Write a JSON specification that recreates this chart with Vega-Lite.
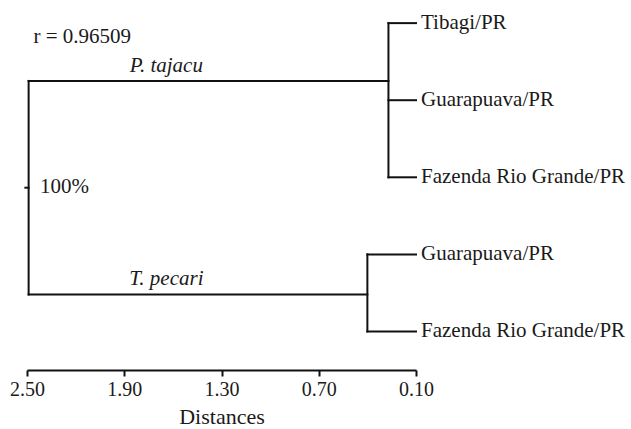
{
  "$schema": "https://vega.github.io/schema/vega-lite/v6.json",
  "autosize": "none",
  "padding": {"left": 27, "top": 0, "right": 215, "bottom": 59},
  "width": 389,
  "height": 370,
  "background": "white",
  "config": {"view": {"stroke": null}, "font": "Liberation Serif"},
  "datasets": {
    "segments": [
      {"part": "root stub", "x": 2.51, "x2": 2.49, "y": 2.135, "y2": 2.135},
      {"part": "root", "x": 2.49, "x2": 2.49, "y": 0.75, "y2": 3.52},
      {"part": "P. tajacu branch", "x": 2.49, "x2": 0.27, "y": 0.75, "y2": 0.75},
      {"part": "P. tajacu node", "x": 0.27, "x2": 0.27, "y": 0, "y2": 2},
      {"part": "Tibagi", "x": 0.27, "x2": 0.1, "y": 0, "y2": 0},
      {"part": "Guarapuava 1", "x": 0.27, "x2": 0.1, "y": 1, "y2": 1},
      {"part": "Fazenda 1", "x": 0.27, "x2": 0.1, "y": 2, "y2": 2},
      {"part": "T. pecari branch", "x": 2.49, "x2": 0.4, "y": 3.52, "y2": 3.52},
      {"part": "T. pecari node", "x": 0.4, "x2": 0.4, "y": 3, "y2": 4},
      {"part": "Guarapuava 2", "x": 0.4, "x2": 0.1, "y": 3, "y2": 3},
      {"part": "Fazenda 2", "x": 0.4, "x2": 0.1, "y": 4, "y2": 4}
    ],
    "leaves": [
      {"label": "Tibagi/PR", "x": 0.1, "y": 0},
      {"label": "Guarapuava/PR", "x": 0.1, "y": 1},
      {"label": "Fazenda Rio Grande/PR", "x": 0.1, "y": 2},
      {"label": "Guarapuava/PR", "x": 0.1, "y": 3},
      {"label": "Fazenda Rio Grande/PR", "x": 0.1, "y": 4}
    ],
    "clades": [
      {"label": "P. tajacu", "x": 1.64, "y": 0.75},
      {"label": "T. pecari", "x": 1.64, "y": 3.52}
    ],
    "notes": [
      {"label": "r = 0.96509", "x": 2.46, "y": 0.18},
      {"label": "100%", "x": 2.42, "y": 2.13}
    ]
  },
  "layer": [
    {
      "data": {"name": "segments"},
      "mark": {"type": "rule", "color": "#111111", "strokeWidth": 2, "strokeCap": "square", "clip": false},
      "encoding": {
        "x": {
          "field": "x", "type": "quantitative",
          "scale": {"domain": [0.1, 2.5], "reverse": true, "nice": false, "zero": false},
          "axis": {
            "values": [2.5, 1.9, 1.3, 0.7, 0.1],
            "format": ".2f",
            "title": "Distances",
            "grid": false,
            "domainColor": "#111111",
            "domainWidth": 2,
            "tickColor": "#111111",
            "tickWidth": 2,
            "tickSize": 6,
            "labelFont": "Liberation Serif",
            "labelFontSize": 20,
            "labelColor": "#1a1a1a",
            "labelPadding": 3,
            "labelFlush": false,
            "labelOverlap": false,
            "titleFont": "Liberation Serif",
            "titleFontSize": 22,
            "titleFontWeight": "normal",
            "titleColor": "#1a1a1a",
            "titlePadding": 7
          }
        },
        "x2": {"field": "x2"},
        "y": {
          "field": "y", "type": "quantitative",
          "scale": {"domain": [-0.3, 4.5], "reverse": true, "nice": false, "zero": false},
          "axis": null
        },
        "y2": {"field": "y2"}
      }
    },
    {
      "data": {"name": "leaves"},
      "mark": {"type": "text", "align": "left", "baseline": "middle", "dx": 5, "font": "Liberation Serif", "fontSize": 21, "color": "#1a1a1a"},
      "encoding": {
        "x": {"field": "x", "type": "quantitative"},
        "y": {"field": "y", "type": "quantitative"},
        "text": {"field": "label"}
      }
    },
    {
      "data": {"name": "clades"},
      "mark": {"type": "text", "align": "center", "baseline": "alphabetic", "dy": -9, "font": "Liberation Serif", "fontStyle": "italic", "fontSize": 21, "color": "#1a1a1a"},
      "encoding": {
        "x": {"field": "x", "type": "quantitative"},
        "y": {"field": "y", "type": "quantitative"},
        "text": {"field": "label"}
      }
    },
    {
      "data": {"name": "notes"},
      "mark": {"type": "text", "align": "left", "baseline": "middle", "font": "Liberation Serif", "fontSize": 21, "color": "#1a1a1a"},
      "encoding": {
        "x": {"field": "x", "type": "quantitative"},
        "y": {"field": "y", "type": "quantitative"},
        "text": {"field": "label"}
      }
    }
  ]
}
